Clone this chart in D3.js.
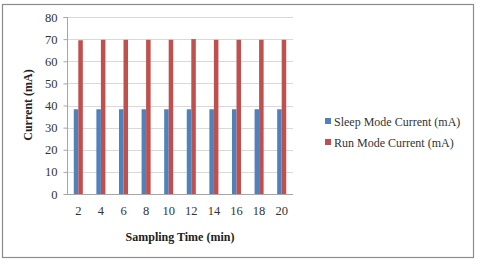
<!DOCTYPE html>
<html>
<head>
<meta charset="utf-8">
<script src="https://cdn.jsdelivr.net/npm/d3@7"></script>
<style>
  body { margin: 0; background: #fff; }
</style>
</head>
<body>
<svg id="canvas" width="481" height="267" font-family="'Liberation Serif', 'Times New Roman', serif"></svg>
<script>
let categories = ['2', '4', '6', '8', '10', '12', '14', '16', '18', '20']
let sleepValues = [38.3, 38.3, 38.3, 38.3, 38.3, 38.3, 38.3, 38.3, 38.3, 38.3]
let runValues = [69.5, 69.7, 69.7, 69.7, 69.7, 70, 69.7, 69.7, 69.7, 69.7]
let seriesNames = ['Sleep Mode Current (mA)', 'Run Mode Current (mA)']
let seriesColors = ['#4F81BD', '#C0504D']
let yTicks = [0, 10, 20, 30, 40, 50, 60, 70, 80]

let fontName = "'Liberation Serif', 'Times New Roman', serif"
let svg = d3.select('#canvas')

// outer chart frame
svg.append('rect')
   .attr('x', 2.5).attr('y', 4.5)
   .attr('width', 471).attr('height', 253)
   .attr('fill', '#fff')
   .attr('stroke', '#8c8c8c')
   .attr('stroke-width', 1.2)

let plotLeft = 67, plotRight = 293, plotTop = 17, plotBottom = 194

let x = d3.scaleBand().domain(categories).range([plotLeft, plotRight]).paddingInner(0.6).paddingOuter(0.3)
let inner = d3.scaleBand().domain([0, 1]).range([0, x.bandwidth()])
let y = d3.scaleLinear().domain([0, 80]).range([plotBottom, plotTop])

// gridlines
svg.append('g')
   .selectAll('line')
   .data(yTicks)
   .enter()
   .append('line')
   .attr('x1', plotLeft).attr('x2', plotRight)
   .attr('y1', (d) => Math.round(y(d)) + 0.5)
   .attr('y2', (d) => Math.round(y(d)) + 0.5)
   .attr('stroke', '#d9d9d9')

let series = [sleepValues, runValues]
series.forEach((vals, s) => {
    svg.append('g')
       .selectAll('rect')
       .data(vals)
       .enter()
       .append('rect')
       .attr('x', (d, i) => x(categories[i]) + inner(s))
       .attr('width', inner.bandwidth())
       .attr('y', (d) => y(d))
       .attr('height', (d) => plotBottom - y(d))
       .attr('fill', seriesColors[s])
})

// y axis
let yAxis = svg.append('g')
   .attr('transform', 'translate(' + (plotLeft + 0.5) + ',0)')
   .call(d3.axisLeft(y).tickValues(yTicks).tickSize(4).tickPadding(6))
yAxis.attr('font-family', fontName).attr('font-size', 12.5)
yAxis.select('.domain').attr('stroke', '#a6a6a6').attr('d', 'M-4,' + (plotTop + 0.5) + 'H0V' + (plotBottom + 0.5))
yAxis.selectAll('.tick line').attr('stroke', '#a6a6a6')
yAxis.selectAll('.tick text').attr('fill', '#333')

// x axis
let xAxis = svg.append('g')
   .attr('transform', 'translate(0,' + (plotBottom + 0.5) + ')')
   .call(d3.axisBottom(x).tickSize(0).tickPadding(12))
xAxis.attr('font-family', fontName).attr('font-size', 12.5)
xAxis.select('.domain').attr('stroke', '#a6a6a6').attr('d', 'M' + plotLeft + ',0H' + plotRight)
xAxis.selectAll('.tick text').attr('fill', '#333')

// axis titles
svg.append('text')
   .attr('transform', 'translate(32,105) rotate(-90)')
   .attr('text-anchor', 'middle')
   .attr('font-size', 12)
   .attr('font-weight', 'bold')
   .attr('fill', '#222')
   .text('Current (mA)')

svg.append('text')
   .attr('x', 180).attr('y', 241)
   .attr('text-anchor', 'middle')
   .attr('font-size', 12)
   .attr('font-weight', 'bold')
   .attr('fill', '#222')
   .text('Sampling Time (min)')

// legend
let legend = svg.append('g')
seriesNames.forEach((name, i) => {
    let ly = 122 + i * 21
    legend.append('rect')
          .attr('x', 325).attr('y', ly - 4)
          .attr('width', 6).attr('height', 6)
          .attr('fill', seriesColors[i])
    legend.append('text')
          .attr('x', 334).attr('y', ly + 1)
          .attr('dominant-baseline', 'middle')
          .attr('font-size', 12)
          .attr('fill', '#333')
          .text(name)
})
</script>
</body>
</html>
